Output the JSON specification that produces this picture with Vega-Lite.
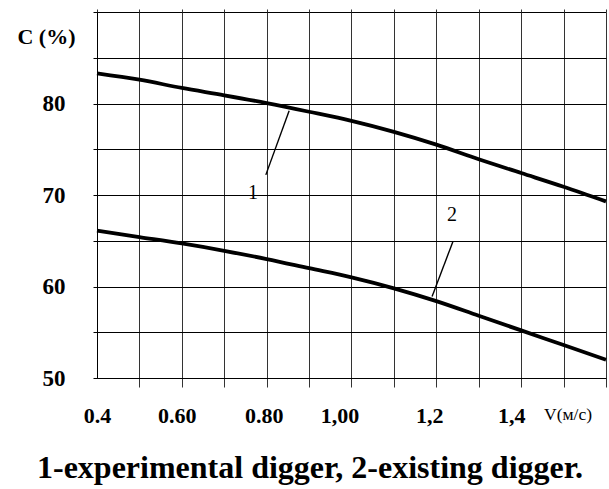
{
  "$schema": "https://vega.github.io/schema/vega-lite/v6.json",
  "width": 509,
  "height": 366,
  "autosize": "none",
  "padding": {"left": 97, "top": 12, "right": 3, "bottom": 111},
  "background": "white",
  "config": {"view": {"stroke": null}},
  "title": {
    "text": "1-experimental digger, 2-existing digger.",
    "orient": "bottom",
    "anchor": "start",
    "frame": "group",
    "dx": -60,
    "offset": 27,
    "font": "Liberation Serif",
    "fontSize": 32,
    "fontWeight": "bold",
    "color": "black"
  },
  "datasets": {
    "curves": [
      {"series": "1", "V": 0.4, "C": 83.3},
      {"series": "1", "V": 0.5, "C": 82.6},
      {"series": "1", "V": 0.6, "C": 81.7},
      {"series": "1", "V": 0.7, "C": 80.9},
      {"series": "1", "V": 0.8, "C": 80.05},
      {"series": "1", "V": 0.9, "C": 79.1},
      {"series": "1", "V": 1.0, "C": 78.1},
      {"series": "1", "V": 1.1, "C": 76.9},
      {"series": "1", "V": 1.2, "C": 75.5},
      {"series": "1", "V": 1.3, "C": 73.9},
      {"series": "1", "V": 1.4, "C": 72.4},
      {"series": "1", "V": 1.5, "C": 70.9},
      {"series": "1", "V": 1.6, "C": 69.3},
      {"series": "2", "V": 0.4, "C": 66.1},
      {"series": "2", "V": 0.5, "C": 65.4},
      {"series": "2", "V": 0.6, "C": 64.7},
      {"series": "2", "V": 0.7, "C": 63.9},
      {"series": "2", "V": 0.8, "C": 63.0},
      {"series": "2", "V": 0.9, "C": 62.0},
      {"series": "2", "V": 1.0, "C": 61.0},
      {"series": "2", "V": 1.1, "C": 59.8},
      {"series": "2", "V": 1.2, "C": 58.4},
      {"series": "2", "V": 1.3, "C": 56.8},
      {"series": "2", "V": 1.4, "C": 55.2},
      {"series": "2", "V": 1.5, "C": 53.6},
      {"series": "2", "V": 1.6, "C": 52.0}
    ],
    "leaders": [
      {"x": 0.853, "y": 79.2, "x2": 0.798, "y2": 72.2},
      {"x": 1.239, "y": 64.9, "x2": 1.19, "y2": 58.9}
    ],
    "labels": [
      {"x": 0.768, "y": 70.2, "t": "1"},
      {"x": 1.237, "y": 67.8, "t": "2"}
    ]
  },
  "resolve": {"axis": {"x": "independent"}},
  "layer": [
    {
      "data": {"name": "curves"},
      "mark": {"type": "line", "color": "black", "strokeWidth": 3.8, "interpolate": "monotone"},
      "encoding": {
        "x": {
          "field": "V", "type": "quantitative",
          "scale": {"domain": [0.4, 1.6], "nice": false, "zero": false},
          "axis": {
            "title": null,
            "values": [0.4, 0.5, 0.6, 0.7, 0.8, 0.9, 1.0, 1.1, 1.2, 1.3, 1.4, 1.5, 1.6],
            "grid": true, "gridColor": "#333", "gridWidth": 1, "gridOpacity": 1,
            "domain": true, "domainColor": "black", "domainWidth": 1,
            "ticks": true, "tickSize": 9, "tickColor": "#333", "tickWidth": 1,
            "tickOpacity": {"condition": {"test": "datum.value < 0.45", "value": 0}, "value": 1},
            "labelExpr": "round(datum.value*10)==4 ? '0.4' : round(datum.value*10)==6 ? '0.60' : round(datum.value*10)==8 ? '0.80' : round(datum.value*10)==10 ? '1,00' : round(datum.value*10)==12 ? '1,2' : round(datum.value*10)==14 ? '1,4' : round(datum.value*10)==15 ? 'V(м/с)' : ''",
            "labelFont": "Liberation Serif",
            "labelFontSize": {"condition": {"test": "round(datum.value*10)==15", "value": 17.5}, "value": 22},
            "labelFontWeight": {"condition": {"test": "round(datum.value*10)==15", "value": "normal"}, "value": "bold"},
            "labelAlign": {"condition": {"test": "round(datum.value*10)==15", "value": "left"}, "value": "center"},
            "labelOffset": {
              "condition": [
                {"test": "round(datum.value*10)==6", "value": -5},
                {"test": "round(datum.value*10)==8", "value": -3},
                {"test": "round(datum.value*10)==10", "value": -12},
                {"test": "round(datum.value*10)==12", "value": -7},
                {"test": "round(datum.value*10)==14", "value": -10},
                {"test": "round(datum.value*10)==15", "value": -20}
              ],
              "value": 0
            },
            "labelColor": "black",
            "labelPadding": 18,
            "labelFlush": false,
            "labelOverlap": false,
            "labelBound": false
          }
        },
        "y": {
          "field": "C", "type": "quantitative",
          "scale": {"domain": [50, 90], "nice": false, "zero": false},
          "axis": {
            "values": [50, 55, 60, 65, 70, 75, 80, 85, 90],
            "grid": true, "gridColor": "black", "gridWidth": 1, "gridOpacity": 1,
            "domain": true, "domainColor": "black", "domainWidth": 1,
            "ticks": true, "tickSize": 4, "tickColor": "black",
            "labelExpr": "(datum.value % 10 == 0 && datum.value < 90) ? datum.label : ''",
            "labelFont": "Liberation Serif",
            "labelFontSize": 23,
            "labelFontWeight": "bold",
            "labelColor": "black",
            "labelPadding": 28,
            "labelOverlap": false,
            "labelFlush": false,
            "title": "C (%)",
            "titleFont": "Liberation Serif",
            "titleFontSize": 22,
            "titleFontWeight": "bold",
            "titleColor": "black",
            "titleAngle": 0,
            "titleX": -51,
            "titleY": 24,
            "titleAlign": "center",
            "titleBaseline": "middle"
          }
        },
        "detail": {"field": "series", "type": "nominal"}
      }
    },
    {
      "data": {"name": "leaders"},
      "mark": {"type": "rule", "color": "black", "strokeWidth": 1.4},
      "encoding": {
        "x": {
          "field": "x", "type": "quantitative",
          "axis": {
            "orient": "top", "title": null, "labels": false, "domain": false, "grid": false,
            "values": [0.4, 0.5, 0.6, 0.7, 0.8, 0.9, 1.0, 1.1, 1.2, 1.3, 1.4, 1.5, 1.6],
            "ticks": true, "tickSize": 3, "tickColor": "#333"
          }
        },
        "y": {"field": "y", "type": "quantitative"},
        "x2": {"field": "x2"},
        "y2": {"field": "y2"}
      }
    },
    {
      "data": {"name": "labels"},
      "mark": {"type": "text", "font": "Liberation Serif", "fontSize": 20, "color": "black", "align": "center", "baseline": "middle"},
      "encoding": {
        "x": {"field": "x", "type": "quantitative", "axis": null},
        "y": {"field": "y", "type": "quantitative"},
        "text": {"field": "t", "type": "nominal"}
      }
    }
  ]
}
